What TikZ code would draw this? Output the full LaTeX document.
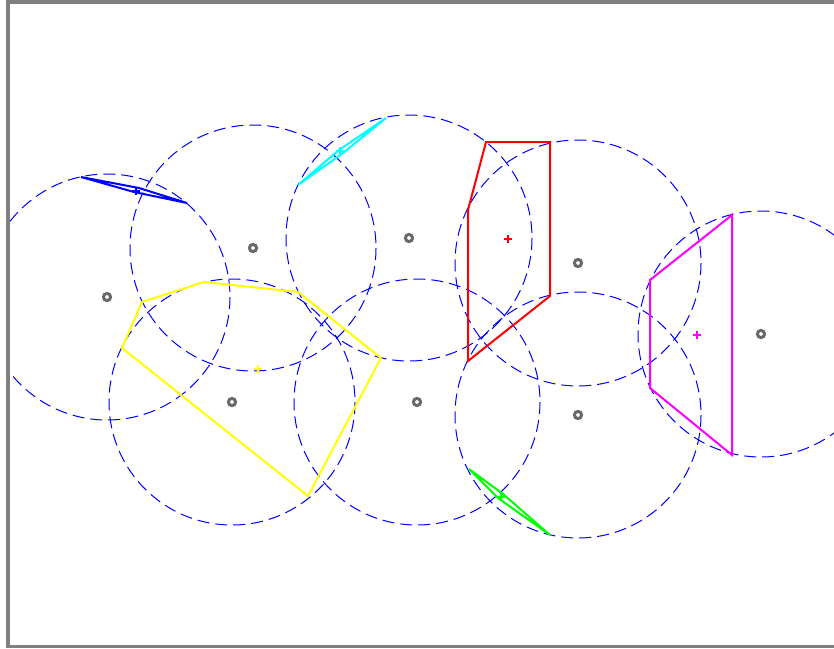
\documentclass[tikz,border=0pt]{standalone}
\definecolor{pblue}{RGB}{0,0,255}
\definecolor{pcyan}{RGB}{0,255,255}
\definecolor{pred}{RGB}{255,0,0}
\definecolor{pmag}{RGB}{255,0,255}
\definecolor{pyel}{RGB}{255,255,0}
\definecolor{pgrn}{RGB}{0,255,0}
\definecolor{ringgray}{RGB}{105,105,105}
\begin{document}
\begin{tikzpicture}[x=1pt,y=-1pt,
  rng/.style={draw=ringgray,line width=3pt},
  zone/.style={draw=pblue,line width=1pt,dash pattern=on 12pt off 6pt},
  poly/.style={line width=2pt,line join=miter},
  pl/.style={line width=2.6pt}]
\useasboundingbox (0,0) rectangle (834,648);
\begin{scope}
\clip (10,4) rectangle (834,644);
% sensor positions
\foreach \n/\x/\y in {s1/107/297, s2/253/248, s3/409/238, s4/578/263, s5/761/334, s6/232/402, s7/417/402, s8/578/415}{
  \coordinate (\n) at (\x,\y);
  \draw[zone] (\n) circle[radius=123];
  \draw[rng] (\n) circle[radius=3.6];
}
% polygons
\draw[poly,pblue] (81,177) -- (139,188) -- (187,203) -- (134,192) -- cycle;
\draw[poly,pcyan] (298,185) -- (339,150) -- (386,118) -- (343,153) -- cycle;
\draw[poly,pred] (486,142) -- (550,142) -- (550,296) -- (468,361) -- (468,210) -- cycle;
\draw[poly,pmag] (732,215) -- (732,455) -- (650,388) -- (650,280) -- cycle;
\draw[poly,pyel] (142,302) -- (204,282) -- (298,292) -- (381,358) -- (308,496) -- (122,348) -- cycle;
\draw[poly,pgrn] (469,469) -- (503,494) -- (550,535) -- (498,498) -- cycle;
% centroid markers
\foreach \c/\x/\y in {pblue/136/191, pcyan/340/151, pred/508/239, pmag/697/335, pyel/258/369, pgrn/501/497}{
  \draw[pl,\c] (\x-4,\y) -- (\x+4,\y) (\x,\y-4) -- (\x,\y+4);
}
\end{scope}
% frame
\draw[black!50,line width=4pt] (8,2) -- (840,2);
\draw[black!50,line width=4pt] (8,0) -- (8,648);
\draw[black!50,line width=3pt] (8,646.5) -- (840,646.5);
\end{tikzpicture}
\end{document}
